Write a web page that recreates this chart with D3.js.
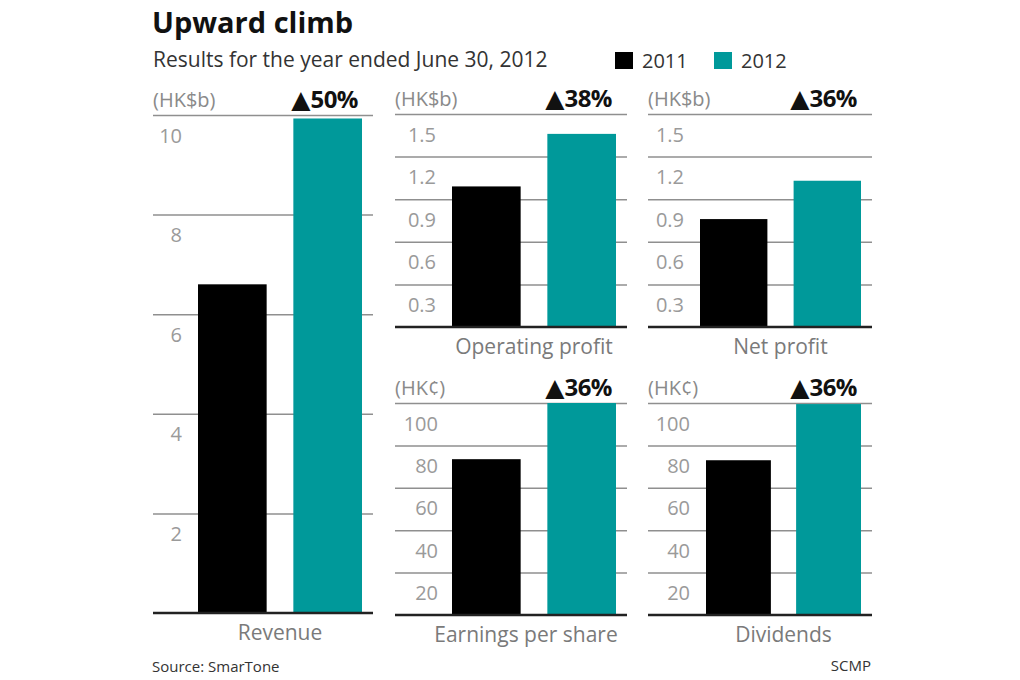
<!DOCTYPE html>
<html>
<head>
<meta charset="utf-8">
<script src="https://cdn.jsdelivr.net/npm/d3@7"></script>
<style>
  body { margin: 0; background: #fff; }
  svg { font-family: "Open Sans", "Noto Sans", sans-serif; }
</style>
</head>
<body>
<div id="chart"></div>
<script>
// data
const years = ["2011", "2012"];
const categories = ["Revenue", "Operating profit", "Net profit", "Earnings per share", "Dividends"];
const values2011 = [6.6, 0.99, 0.76, 73.5, 73];
const values2012 = [9.93, 1.36, 1.03, 100, 99.5];
const units = ["(HK$b)", "(HK$b)", "(HK$b)", "(HK\u00a2)", "(HK\u00a2)"];
const changes = ["50%", "38%", "36%", "36%", "36%"];
const revenueTicks = [2, 4, 6, 8, 10];
const profitTicks = [0.3, 0.6, 0.9, 1.2, 1.5];
const centTicks = [20, 40, 60, 80, 100];

const colors = { "2011": "#000000", "2012": "#00999a" };

// panel layout (pixels)
const layout = [
  { x0: 153, x1: 373, top: 115, base: 613, max: 10,  ticks: revenueTicks, fmt: d3.format("d"),   lab: 29, pad: 45 },
  { x0: 395, x1: 627, top: 114, base: 327, max: 1.5, ticks: profitTicks,  fmt: d3.format(".1f"), lab: 41, pad: 57 },
  { x0: 648, x1: 872, top: 114, base: 327, max: 1.5, ticks: profitTicks,  fmt: d3.format(".1f"), lab: 36, pad: 52 },
  { x0: 395, x1: 627, top: 403, base: 615, max: 100, ticks: centTicks,    fmt: d3.format("d"),   lab: 43, pad: 57 },
  { x0: 648, x1: 872, top: 403, base: 615, max: 100, ticks: centTicks,    fmt: d3.format("d"),   lab: 42, pad: 58 }
];

const svg = d3.select("#chart").append("svg")
  .attr("width", 1020)
  .attr("height", 680);

// title + subtitle
svg.append("text")
  .attr("x", 152).attr("y", 33)
  .attr("font-size", 29).attr("font-weight", "bold")
  .attr("fill", "#111")
  .text("Upward climb");

svg.append("text")
  .attr("x", 153).attr("y", 67)
  .attr("font-size", 21).attr("fill", "#333")
  .text("Results for the year ended June 30, 2012");

// legend
const legendX = [615, 714];
years.forEach((yr, i) => {
  svg.append("rect")
    .attr("x", legendX[i]).attr("y", 52)
    .attr("width", 18).attr("height", 17)
    .attr("fill", colors[yr]);
  svg.append("text")
    .attr("x", legendX[i] + 27).attr("y", 68)
    .attr("font-size", 20).attr("fill", "#333")
    .text(yr);
});

// panels
categories.forEach((cat, i) => {
  const p = layout[i];
  const g = svg.append("g");

  const y = d3.scaleLinear().domain([0, p.max]).range([p.base, p.top]);
  const x = d3.scaleBand()
    .domain(years)
    .range([p.x0 + p.pad, p.x1 - 11])
    .paddingInner(0.28)
    .paddingOuter(0);

  // gridlines + tick labels
  const axis = g.append("g")
    .attr("transform", `translate(${p.x0},0)`)
    .call(d3.axisRight(y).tickValues(p.ticks).tickSize(p.x1 - p.x0).tickFormat(p.fmt));
  axis.select(".domain").remove();
  axis.selectAll(".tick line").attr("stroke", "#8f8f8f").attr("stroke-width", 1.5);
  axis.selectAll(".tick text")
    .attr("x", p.lab).attr("dy", 27)
    .attr("text-anchor", "end")
    .attr("font-family", "'Open Sans', sans-serif")
    .attr("font-size", 20)
    .attr("fill", "#9a9a9a");

  // bars
  const vals = [values2011[i], values2012[i]];
  g.selectAll(".bar")
    .data(years.map((yr, j) => ({ yr, v: vals[j] })))
    .enter().append("rect")
    .attr("class", "bar")
    .attr("x", d => x(d.yr))
    .attr("width", x.bandwidth())
    .attr("y", d => y(d.v))
    .attr("height", d => y(0) - y(d.v))
    .attr("fill", d => colors[d.yr]);

  // baseline
  g.append("line")
    .attr("x1", p.x0).attr("x2", p.x1)
    .attr("y1", y(0)).attr("y2", y(0))
    .attr("stroke", "#222").attr("stroke-width", 2.5);

  // unit label + change
  g.append("text")
    .attr("x", p.x0).attr("y", p.top - 8)
    .attr("font-size", 20).attr("fill", "#8a8a8a")
    .text(units[i]);

  const chg = g.append("text")
    .attr("x", x("2012") + x.bandwidth() - 4).attr("y", p.top - 7)
    .attr("text-anchor", "end")
    .attr("font-weight", "bold").attr("fill", "#111");
  chg.append("tspan")
    .attr("font-family", "'DejaVu Sans', sans-serif")
    .attr("font-size", 25)
    .text("\u25B2");
  chg.append("tspan")
    .attr("font-size", 24)
    .attr("letter-spacing", -0.5)
    .text(changes[i]);

  // category label
  g.append("text")
    .attr("x", (x("2011") + x("2012") + x.bandwidth()) / 2 - (i === 3 ? 8 : 0))
    .attr("y", y(0) + 27)
    .attr("text-anchor", "middle")
    .attr("font-size", 21).attr("fill", "#7a7a7a")
    .text(cat);
});

// footer
svg.append("text")
  .attr("x", 152).attr("y", 672)
  .attr("font-size", 15).attr("fill", "#333")
  .text("Source: SmarTone");

svg.append("text")
  .attr("x", 871).attr("y", 671)
  .attr("text-anchor", "end")
  .attr("font-size", 15).attr("fill", "#333")
  .text("SCMP");
</script>
</body>
</html>
